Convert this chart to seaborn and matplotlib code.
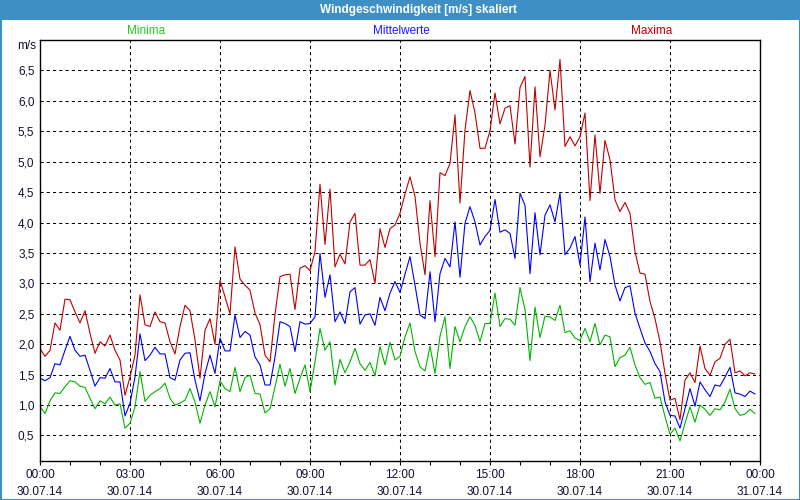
import numpy as np
import pandas as pd
import matplotlib
matplotlib.use("Agg")
import matplotlib.pyplot as plt
import matplotlib.dates as mdates
from matplotlib.patches import Rectangle
import seaborn as sns

title = "Windgeschwindigkeit [m/s] skaliert"
series_names = ["Minima", "Mittelwerte", "Maxima"]
unit_label = "m/s"
y_ticks = [0.5, 1.0, 1.5, 2.0, 2.5, 3.0, 3.5, 4.0, 4.5, 5.0, 5.5, 6.0, 6.5]
x_tick_labels = ["00:00\n30.07.14", "03:00\n30.07.14", "06:00\n30.07.14", "09:00\n30.07.14",
                 "12:00\n30.07.14", "15:00\n30.07.14", "18:00\n30.07.14", "21:00\n30.07.14",
                 "00:00\n31.07.14"]

times = pd.date_range("2014-07-30 00:00", periods=144, freq="10min")

maxima = [
    1.93, 1.80, 1.90, 2.35, 2.23, 2.74, 2.73, 2.53, 2.35, 2.55, 2.18, 1.85, 2.04, 1.97, 2.15, 1.90, 1.74, 1.16, 1.46, 1.82, 2.81, 2.32, 2.29, 2.53,
    2.37, 2.35, 2.04, 1.84, 2.29, 2.64, 2.55, 2.07, 1.44, 2.23, 2.42, 2.00, 3.05, 2.78, 2.50, 3.60, 3.07, 2.97, 2.89, 2.51, 2.32, 1.82, 1.71, 2.49,
    3.11, 3.14, 3.15, 2.57, 3.25, 3.29, 3.21, 3.52, 4.63, 3.64, 4.55, 3.27, 3.48, 3.32, 4.01, 4.15, 3.30, 3.30, 3.39, 3.00, 3.90, 3.59, 3.90, 3.96,
    4.15, 4.47, 4.75, 4.43, 3.66, 3.14, 4.36, 3.44, 4.82, 4.77, 4.97, 5.77, 4.32, 5.52, 6.17, 5.80, 5.22, 5.22, 5.51, 6.13, 5.62, 5.88, 5.92, 5.29,
    6.22, 6.40, 4.91, 6.23, 5.08, 5.60, 6.50, 5.85, 6.68, 5.25, 5.41, 5.26, 5.41, 5.80, 4.36, 5.44, 4.48, 5.35, 5.03, 4.37, 4.18, 4.33, 4.15, 3.52,
    3.17, 3.15, 2.70, 2.42, 2.04, 1.52, 1.08, 1.11, 0.76, 1.41, 1.53, 1.37, 1.97, 1.60, 1.49, 1.71, 1.77, 2.00, 2.08, 1.53, 1.56, 1.48, 1.53, 1.51,
]
mittelwerte = [
    1.44, 1.40, 1.45, 1.68, 1.66, 1.90, 2.13, 1.90, 1.80, 1.82, 1.57, 1.31, 1.45, 1.44, 1.60, 1.38, 1.38, 0.82, 1.03, 1.46, 2.17, 1.73, 1.82, 1.95,
    1.84, 1.84, 1.45, 1.41, 1.74, 1.85, 1.86, 1.41, 1.07, 1.52, 1.82, 1.52, 2.10, 1.89, 1.89, 2.48, 2.11, 2.21, 2.15, 1.79, 1.66, 1.33, 1.33, 1.79,
    2.37, 2.34, 2.29, 1.88, 2.37, 2.33, 2.34, 2.45, 3.49, 2.77, 3.14, 2.37, 2.53, 2.34, 2.86, 2.93, 2.33, 2.48, 2.50, 2.31, 2.77, 2.55, 2.84, 3.03,
    2.85, 3.15, 3.44, 2.97, 2.48, 2.42, 3.19, 2.37, 3.16, 3.41, 3.27, 4.01, 3.10, 3.99, 4.26, 4.01, 3.63, 3.77, 3.87, 4.38, 3.84, 3.88, 3.82, 3.41,
    4.48, 4.28, 3.16, 4.16, 3.47, 4.12, 4.29, 4.01, 4.48, 3.47, 3.58, 3.77, 3.30, 4.09, 3.03, 3.66, 3.22, 3.72, 3.44, 2.97, 2.71, 2.93, 2.96, 2.51,
    2.26, 2.02, 1.88, 1.68, 1.55, 1.05, 0.83, 0.82, 0.62, 0.94, 1.27, 0.98, 1.38, 1.25, 1.14, 1.33, 1.31, 1.46, 1.62, 1.20, 1.18, 1.14, 1.23, 1.18,
]
minima = [
    0.98, 0.86, 1.07, 1.20, 1.19, 1.30, 1.40, 1.38, 1.31, 1.29, 1.11, 0.94, 1.07, 1.02, 1.13, 1.00, 1.02, 0.62, 0.70, 0.97, 1.55, 1.06, 1.16, 1.22,
    1.27, 1.36, 1.11, 1.00, 1.03, 1.08, 1.27, 1.05, 0.70, 1.00, 1.22, 0.97, 1.40, 1.27, 1.22, 1.62, 1.22, 1.45, 1.49, 1.19, 1.18, 0.87, 0.94, 1.30,
    1.67, 1.31, 1.60, 1.19, 1.44, 1.66, 1.22, 1.71, 2.26, 1.90, 2.04, 1.33, 1.75, 1.53, 1.71, 1.93, 1.68, 1.57, 1.70, 1.48, 1.96, 1.66, 2.03, 1.74,
    1.80, 2.12, 2.35, 1.88, 1.63, 1.56, 1.97, 1.52, 2.13, 2.45, 1.60, 2.29, 2.04, 2.29, 2.45, 2.31, 2.04, 2.34, 2.34, 2.84, 2.29, 2.42, 2.41, 2.31,
    2.93, 2.57, 1.73, 2.61, 2.11, 2.46, 2.45, 2.39, 2.64, 2.19, 2.22, 2.10, 2.06, 2.26, 2.04, 2.34, 1.99, 2.15, 2.12, 1.63, 1.78, 1.82, 1.95, 1.66,
    1.45, 1.34, 1.37, 1.11, 1.13, 0.81, 0.52, 0.62, 0.41, 0.70, 0.97, 0.72, 1.00, 0.93, 0.83, 0.94, 0.92, 1.05, 1.26, 0.94, 0.83, 0.85, 0.93, 0.86,
]

line_colors = {"Minima": "#00b400", "Mittelwerte": "#0000ff", "Maxima": "#c00000"}
label_colors = {"Minima": "#22cc22", "Mittelwerte": "#1a1aff", "Maxima": "#c00000"}
bar_color = "#3d8fc6"
text_color = "#101030"

df = pd.DataFrame({
    "Zeit": np.tile(times, 3),
    "Wert": minima + mittelwerte + maxima,
    "Reihe": np.repeat(series_names, len(times)),
})

sns.set_style("white")
plt.rcParams["font.family"] = ["Liberation Sans", "DejaVu Sans"]

fig = plt.figure(figsize=(8, 5), dpi=100)
ax = fig.add_axes([40 / 800, 1 - 461 / 500, 720 / 800, 421 / 500])

sns.lineplot(data=df, x="Zeit", y="Wert", hue="Reihe", palette=line_colors,
             hue_order=series_names, linewidth=0.8, ax=ax, legend=False)

t0 = pd.Timestamp("2014-07-30 00:00")
t1 = pd.Timestamp("2014-07-31 00:00")
ax.set_xlim(t0, t1)
ax.set_ylim(0.08, 7.0)

major = pd.date_range(t0, t1, freq="3h")
ax.set_xticks(major)
ax.set_xticklabels(x_tick_labels, linespacing=1.55)
ax.xaxis.set_minor_locator(mdates.HourLocator(interval=1))
ax.set_yticks(y_ticks)
ax.set_yticklabels([f"{v:.1f}".replace(".", ",") for v in y_ticks])

ax.tick_params(axis="x", which="both", direction="out", length=3, width=0.8,
               color="black", labelsize=8.5, labelcolor=text_color, pad=3, bottom=True)
ax.tick_params(axis="y", length=0, labelsize=8.5, labelcolor=text_color, pad=4)

for v in y_ticks:
    ax.axhline(v, color="black", lw=0.75, ls=(0, (3, 3)), zorder=0.5)
for m in major[1:-1]:
    ax.axvline(m, color="black", lw=0.75, ls=(0, (3, 3)), zorder=0.5)

for s in ["top", "right", "bottom", "left"]:
    ax.spines[s].set_visible(True)
    ax.spines[s].set_color("black")
    ax.spines[s].set_linewidth(1.0)
ax.set_xlabel("")
ax.set_ylabel("")

# title bar
fig.patches.append(Rectangle((0, 1 - 20 / 500), 1, 20 / 500, transform=fig.transFigure,
                             facecolor=bar_color, edgecolor="none", zorder=0))
fig.patches.append(Rectangle((0.5 / 800, 0.5 / 500), 799 / 800, 499 / 500, transform=fig.transFigure,
                             facecolor="none", edgecolor=bar_color, lw=1.5, zorder=5))
fig.text(418 / 800, 1 - 10.5 / 500, title, color="white", fontsize=8.5, fontweight="bold",
         ha="center", va="center")

# series labels
label_x = {"Minima": 146, "Mittelwerte": 401, "Maxima": 652}
for name in series_names:
    fig.text(label_x[name] / 800, 1 - 31 / 500, name, color=label_colors[name], fontsize=8.5,
             ha="center", va="center")

fig.text(36 / 800, 1 - 46 / 500, unit_label, color=text_color, fontsize=8.5, ha="right", va="center")

fig.savefig("out.png", dpi=100)
